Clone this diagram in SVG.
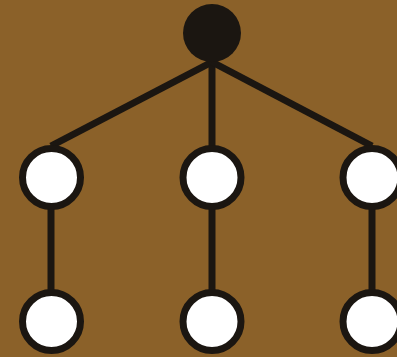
<svg xmlns="http://www.w3.org/2000/svg" width="397" height="357" viewBox="0 0 397 357">
  <style>
    .edge { stroke: #1b1611; stroke-width: 7; fill: none; stroke-linecap: butt; }
    .leaf { fill: #ffffff; stroke: #1b1611; stroke-width: 7; }
    .root { fill: #1b1611; }
  </style>
  <rect width="397" height="357" fill="#8b6129"/>
  <g id="connectors">
    <line class="edge" x1="212" y1="62" x2="51" y2="146"/>
    <line class="edge" x1="212" y1="62" x2="212" y2="146"/>
    <line class="edge" x1="212" y1="62" x2="372" y2="146"/>
    <line class="edge" x1="51" y1="206" x2="51" y2="290"/>
    <line class="edge" x1="212" y1="206" x2="212" y2="290"/>
    <line class="edge" x1="372" y1="206" x2="372" y2="290"/>
  </g>
  <g id="root"><circle class="root" cx="212" cy="33" r="29"/></g>
  <g id="n1"><circle class="leaf" cx="51.5" cy="177.5" r="29"/></g>
  <g id="n2"><circle class="leaf" cx="212" cy="177.5" r="29"/></g>
  <g id="n3"><circle class="leaf" cx="372" cy="177.5" r="29"/></g>
  <g id="n4"><circle class="leaf" cx="51.5" cy="321.5" r="29"/></g>
  <g id="n5"><circle class="leaf" cx="212" cy="321.5" r="29"/></g>
  <g id="n6"><circle class="leaf" cx="372" cy="321.5" r="29"/></g>
</svg>
